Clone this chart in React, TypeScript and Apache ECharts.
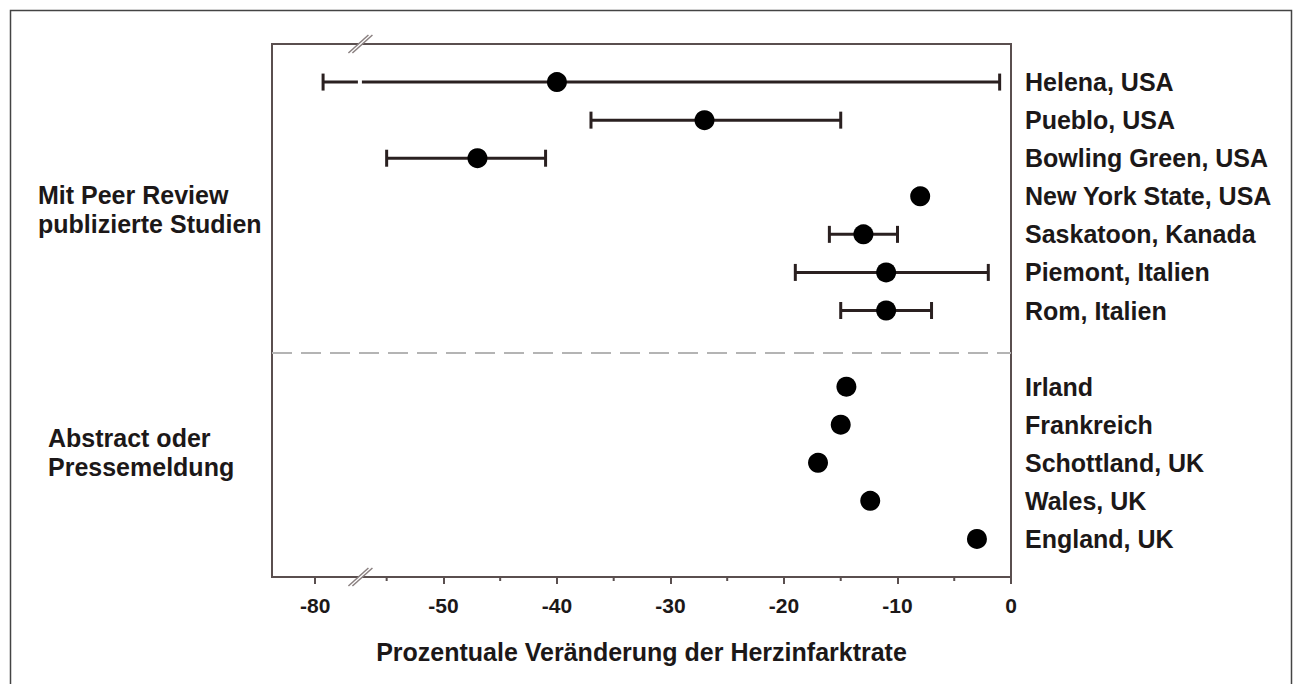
import { useEffect, useRef } from "react";
import * as echarts from "echarts";

// ---- data ----
const studies = [
  "Helena, USA",
  "Pueblo, USA",
  "Bowling Green, USA",
  "New York State, USA",
  "Saskatoon, Kanada",
  "Piemont, Italien",
  "Rom, Italien",
  "Irland",
  "Frankreich",
  "Schottland, UK",
  "Wales, UK",
  "England, UK",
];
const rows = [1, 2, 3, 4, 5, 6, 7, 9, 10, 11, 12, 13];
const estimates = [-40, -27, -47, -8, -13, -11, -11, -14.5, -15, -17, -12.4, -3];
const ciLow: (number | null)[] = [-79.3, -37, -55, null, -16, -19, -15, null, null, null, null, null];
const ciHigh: (number | null)[] = [-1, -15, -41, null, -10, -2, -7, null, null, null, null, null];
const majorTicks = [-80, -50, -40, -30, -20, -10, 0];
const minorTicks = [-55, -45, -35, -25, -15, -5];
const groupLabels = ["Mit Peer Review\npublizierte Studien", "Abstract oder\nPressemeldung"];
const dividerRow = 8.1;
const rowMax = 14;
const xTitle = "Prozentuale Veränderung der Herzinfarktrate";

// axis break: values between BREAK_LOW and BREAK_HIGH are omitted
const BREAK_LOW = -76.1;
const BREAK_HIGH = -57.4;
const X_LEFT_VALUE = -83.8;
const X_RIGHT_VALUE = 0;

const toAxis = (v: number) => (v >= BREAK_HIGH ? v : v - BREAK_LOW + BREAK_HIGH);
const fromAxis = (d: number) => (d >= BREAK_HIGH - 1e-9 ? d : d - BREAK_HIGH + BREAK_LOW);

const FONT = "'Liberation Sans', Arial, Helvetica, sans-serif";
const INK = "#2a2020";
const FRAME = "#5a4f4f";
const TEXT = "#1c1818";

export default function App() {
  const ref = useRef<HTMLDivElement>(null);

  useEffect(() => {
    if (!ref.current) return;
    const chart = echarts.init(ref.current, null, { renderer: "svg" });

    const errData: number[][] = [];
    rows.forEach((r, i) => {
      const lo = ciLow[i];
      const hi = ciHigh[i];
      if (lo !== null && hi !== null) errData.push([toAxis(lo), r, toAxis(hi)]);
    });
    const pointData = rows.map((r, i) => [toAxis(estimates[i]), r]);
    const minorData = minorTicks.map((v) => [toAxis(v), rowMax]);

    const option: any = {
      animation: false,
      backgroundColor: "#ffffff",
      grid: {
        left: 272,
        right: 283,
        top: 44,
        bottom: 107,
        show: true,
        borderColor: FRAME,
        borderWidth: 2,
        backgroundColor: "transparent",
      },
      xAxis: {
        type: "value",
        min: toAxis(X_LEFT_VALUE),
        max: toAxis(X_RIGHT_VALUE),
        position: "bottom",
        splitLine: { show: false },
        axisLine: { show: true, onZero: false, lineStyle: { color: FRAME, width: 2 } },
        axisTick: {
          show: true,
          length: 7,
          lineStyle: { color: FRAME, width: 2 },
          customValues: majorTicks.map(toAxis),
        },
        axisLabel: {
          show: true,
          customValues: majorTicks.map(toAxis),
          formatter: (d: number) => String(Math.round(fromAxis(d))),
          fontFamily: FONT,
          fontWeight: "bold",
          fontSize: 21,
          color: TEXT,
          margin: 18,
          showMinLabel: true,
          showMaxLabel: true,
        },
        name: xTitle,
        nameLocation: "middle",
        nameGap: 62,
        nameTextStyle: { fontFamily: FONT, fontWeight: "bold", fontSize: 25, color: TEXT },
      },
      yAxis: {
        type: "value",
        min: 0,
        max: rowMax,
        inverse: true,
        position: "right",
        splitLine: { show: false },
        axisLine: { show: false },
        axisTick: { show: false },
        axisLabel: {
          customValues: rows,
          formatter: (v: number) => {
            const idx = rows.indexOf(Math.round(v));
            return idx >= 0 ? studies[idx] : "";
          },
          fontFamily: FONT,
          fontWeight: "bold",
          fontSize: 25,
          color: TEXT,
          margin: 14,
          align: "left",
        },
      },
      series: [
        {
          type: "custom",
          name: "ci",
          encode: { x: [0, 2], y: 1 },
          data: errData,
          clip: false,
          renderItem: (_params: any, api: any) => {
            const lo = api.value(0);
            const y = api.value(1);
            const hi = api.value(2);
            const pLo = api.coord([lo, y]);
            const pHi = api.coord([hi, y]);
            const h = 8.5;
            const style = { stroke: INK, lineWidth: 3 };
            const children: any[] = [];
            if (lo < BREAK_HIGH && hi > BREAK_HIGH) {
              const pb = api.coord([BREAK_HIGH, y]);
              children.push({ type: "line", shape: { x1: pLo[0], y1: pLo[1], x2: pb[0] - 1.5, y2: pLo[1] }, style });
              children.push({ type: "line", shape: { x1: pb[0] + 2.5, y1: pLo[1], x2: pHi[0], y2: pHi[1] }, style });
            } else {
              children.push({ type: "line", shape: { x1: pLo[0], y1: pLo[1], x2: pHi[0], y2: pHi[1] }, style });
            }
            children.push({ type: "line", shape: { x1: pLo[0], y1: pLo[1] - h, x2: pLo[0], y2: pLo[1] + h }, style });
            children.push({ type: "line", shape: { x1: pHi[0], y1: pHi[1] - h, x2: pHi[0], y2: pHi[1] + h }, style });
            return { type: "group", children };
          },
          z: 2,
        },
        {
          type: "scatter",
          name: "estimate",
          data: pointData,
          symbol: "circle",
          symbolSize: 20,
          itemStyle: { color: "#000000", opacity: 1 },
          z: 3,
          markLine: {
            silent: true,
            symbol: "none",
            label: { show: false },
            lineStyle: { color: "#b4b4b4", width: 2, type: [20, 9] },
            data: [{ yAxis: dividerRow }],
          },
        },
        {
          type: "custom",
          name: "minorTicks",
          data: minorData,
          clip: false,
          silent: true,
          renderItem: (_params: any, api: any) => {
            const p = api.coord([api.value(0), api.value(1)]);
            return {
              type: "line",
              shape: { x1: p[0], y1: p[1], x2: p[0], y2: p[1] + 4 },
              style: { stroke: FRAME, lineWidth: 2 },
            };
          },
        },
        {
          type: "custom",
          name: "break",
          data: [[BREAK_HIGH, 0], [BREAK_HIGH, rowMax]],
          clip: false,
          silent: true,
          z: 10,
          renderItem: (_params: any, api: any) => {
            const p = api.coord([api.value(0), api.value(1)]);
            const cx = p[0];
            const cy = p[1];
            const a = { x1: cx - 11, y1: cy + 9, x2: cx + 9, y2: cy - 9 };
            const b = { x1: cx - 7, y1: cy + 9, x2: cx + 13, y2: cy - 9 };
            return {
              type: "group",
              children: [
                {
                  type: "polygon",
                  shape: { points: [[a.x1, a.y1], [a.x2, a.y2], [b.x2, b.y2], [b.x1, b.y1]] },
                  style: { fill: "#ffffff" },
                },
                { type: "line", shape: a, style: { stroke: "#8a8080", lineWidth: 1.5 } },
                { type: "line", shape: b, style: { stroke: "#8a8080", lineWidth: 1.5 } },
              ],
            };
          },
        },
      ],
      graphic: [
        {
          type: "rect",
          left: 8,
          top: 8,
          shape: { width: 1281, height: 700 },
          style: { fill: "none", stroke: "#444444", lineWidth: 1.5 },
          silent: true,
        },
        {
          type: "text",
          left: 38,
          top: 180,
          style: {
            text: groupLabels[0],
            font: `bold 25px ${FONT}`,
            fill: TEXT,
            lineHeight: 29,
          },
        },
        {
          type: "text",
          left: 48,
          top: 423,
          style: {
            text: groupLabels[1],
            font: `bold 25px ${FONT}`,
            fill: TEXT,
            lineHeight: 29,
          },
        },
      ],
    };

    chart.setOption(option);
    return () => chart.dispose();
  }, []);

  return (
    <div
      ref={ref}
      style={{ position: "fixed", left: 0, top: 0, width: 1294, height: 684, background: "#fff" }}
    />
  );
}
